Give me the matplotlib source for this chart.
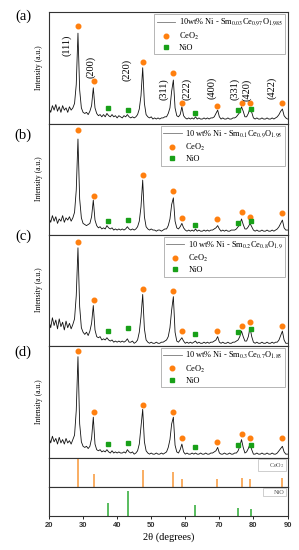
import matplotlib
matplotlib.use("Agg")
import matplotlib.pyplot as plt
from matplotlib.lines import Line2D
import numpy as np

plt.rcParams['font.family'] = ['Liberation Serif', 'DejaVu Serif']
plt.rcParams['mathtext.fontset'] = 'stix'

# 2theta grid, 0.5 deg step
two_theta = np.arange(20, 90.01, 0.5)

# intensities (percent of panel height)
int_a = [14, 10, 16, 12, 17, 11, 15, 10, 16, 12,
         14, 10, 15, 12, 14, 18, 35, 81, 30, 14,
         10, 9, 10, 8, 11, 16, 32, 14, 9, 7,
         8, 6, 8, 6, 9, 7, 6, 8, 6, 7,
         5, 7, 6, 5, 7, 6, 8, 6, 5, 6,
         5, 6, 8, 13, 25, 50, 18, 8, 6, 5,
         6, 4, 5, 4, 5, 4, 5, 5, 6, 6,
         9, 14, 29, 39, 14, 7, 6, 8, 15, 7,
         5, 4, 5, 4, 5, 4, 6, 4, 5, 4,
         4, 5, 4, 5, 4, 5, 5, 6, 9, 12,
         6, 4, 5, 4, 4, 5, 4, 4, 5, 5,
         6, 8, 10, 15, 11, 6, 6, 9, 14, 10,
         5, 4, 5, 4, 4, 5, 4, 4, 5, 4,
         4, 5, 4, 5, 6, 8, 11, 13, 7, 5,
         4]
int_b = [15, 11, 17, 12, 16, 10, 14, 12, 17, 11,
         15, 13, 16, 12, 15, 20, 40, 86, 32, 15,
         10, 9, 8, 9, 10, 16, 31, 13, 8, 6,
         7, 5, 6, 5, 8, 6, 5, 6, 4, 5,
         4, 5, 4, 5, 4, 5, 7, 5, 4, 5,
         4, 5, 7, 12, 25, 49, 16, 7, 5, 4,
         5, 4, 4, 3, 4, 4, 3, 4, 5, 5,
         8, 14, 27, 33, 12, 6, 5, 7, 10, 6,
         4, 3, 4, 3, 4, 3, 5, 3, 4, 3,
         3, 4, 3, 4, 3, 4, 4, 5, 6, 8,
         5, 3, 4, 3, 4, 3, 3, 4, 4, 4,
         5, 7, 9, 14, 9, 5, 5, 7, 10, 7,
         4, 3, 4, 3, 3, 4, 3, 3, 4, 3,
         3, 4, 3, 4, 5, 7, 10, 13, 6, 4,
         4]
int_c = [22, 16, 25, 18, 23, 15, 24, 17, 21, 14,
         22, 16, 20, 15, 19, 24, 45, 88, 35, 16,
         12, 10, 12, 9, 13, 20, 36, 14, 8, 7,
         8, 5, 6, 5, 7, 5, 4, 5, 3, 4,
         3, 4, 3, 4, 3, 4, 6, 3, 3, 4,
         2, 3, 5, 12, 26, 46, 15, 5, 3, 2,
         3, 2, 2, 3, 2, 2, 3, 3, 4, 5,
         8, 16, 32, 44, 12, 4, 3, 5, 7, 4,
         2, 3, 2, 3, 2, 3, 4, 2, 3, 2,
         2, 3, 2, 3, 2, 3, 3, 4, 5, 8,
         3, 2, 3, 2, 2, 3, 2, 2, 3, 3,
         4, 5, 8, 13, 8, 4, 4, 8, 16, 8,
         3, 2, 3, 2, 2, 3, 2, 2, 3, 2,
         2, 3, 2, 3, 3, 5, 9, 13, 5, 2,
         2]
int_d = [18, 13, 19, 14, 17, 12, 18, 13, 16, 12,
         17, 13, 15, 12, 16, 20, 42, 90, 30, 14,
         10, 9, 10, 8, 10, 17, 36, 12, 7, 6,
         7, 5, 6, 5, 7, 5, 4, 6, 4, 5,
         4, 5, 4, 4, 5, 4, 7, 5, 4, 5,
         3, 4, 6, 12, 28, 43, 14, 6, 4, 3,
         4, 3, 3, 4, 3, 3, 4, 3, 4, 5,
         9, 16, 30, 36, 11, 5, 4, 7, 12, 5,
         3, 4, 3, 3, 4, 3, 4, 3, 3, 4,
         3, 3, 4, 3, 3, 4, 4, 5, 6, 9,
         4, 3, 3, 4, 3, 3, 4, 3, 3, 4,
         4, 6, 10, 16, 9, 4, 5, 8, 12, 7,
         3, 3, 4, 3, 3, 4, 3, 3, 4, 3,
         3, 4, 3, 3, 4, 6, 8, 10, 5, 3,
         3]

ceo2_pos = [28.5, 33.1, 47.5, 56.3, 59.1, 69.4, 76.7, 79.1, 88.4]
nio_pos = [37.3, 43.3, 62.9, 75.4, 79.4]

ceo2_mark_a = [87, 38, 55, 45, 18, 16, 18, 18, 18]
ceo2_mark_b = [94, 35, 54, 39, 15, 14, 20, 16, 19]
ceo2_mark_c = [93, 41, 51, 49, 13.5, 13.5, 18, 21, 18]
ceo2_mark_d = [95, 41, 47, 41, 17, 14, 21, 17, 17]
nio_mark_a = [14, 12, 9, 12, 13]
nio_mark_b = [12, 13, 9, 10.5, 12]
nio_mark_c = [13.5, 16, 10, 12, 15]
nio_mark_d = [12, 13, 9, 11, 11]

# reference patterns (relative stick heights)
ceo2_ref = [94, 43, 58, 51, 25, 25, 30, 25, 30]
nio_ref = [43, 84, 38, 27, 23]

hkl = ['(111)', '(200)', '(220)', '(311)', '(222)', '(400)', '(331)', '(420)', '(422)']
hkl_x = [25.2, 32.3, 42.8, 53.6, 60.4, 67.8, 74.6, 78.0, 85.4]
hkl_y = [70, 51, 48, 31, 31, 32, 31, 30, 32]

panel_tags = ['(a)', '(b)', '(c)', '(d)']
sample_labels = [r'10wt% Ni - Sm$_{0.03}$Ce$_{0.97}$O$_{1.985}$',
                 r'10 wt% Ni - Sm$_{0.1}$Ce$_{0.9}$O$_{1.95}$',
                 r'10 wt% Ni - Sm$_{0.2}$Ce$_{0.8}$O$_{1.9}$',
                 r'10 wt% Ni - Sm$_{0.3}$Ce$_{0.7}$O$_{1.85}$']

orange = '#ff7f0e'
green = '#18a018'
W, H = 299, 550
fig = plt.figure(figsize=(W / 100, H / 100), dpi=100)


def px_axes(top, bottom):
    return fig.add_axes([49 / W, 1 - bottom / H, 238.5 / W, (bottom - top) / H])


def style(ax):
    ax.set_xlim(20, 90)
    ax.set_ylim(0, 100)
    ax.set_yticks([])
    for s in ax.spines.values():
        s.set_linewidth(0.8)
        s.set_color('#333333')


bounds = [(12, 123.5), (123.5, 234.5), (234.5, 345.5), (345.5, 457.5)]
patterns = [int_a, int_b, int_c, int_d]
ce_marks = [ceo2_mark_a, ceo2_mark_b, ceo2_mark_c, ceo2_mark_d]
ni_marks = [nio_mark_a, nio_mark_b, nio_mark_c, nio_mark_d]
tag_y = [16, 135, 236, 352]

for i in range(4):
    ax = px_axes(*bounds[i])
    style(ax)
    ax.set_xticks([])
    ax.plot(two_theta, patterns[i], color='#111111', lw=0.6)
    ce, = ax.plot(ceo2_pos, ce_marks[i], 'o', color=orange, ms=3.3, ls='none')
    ni, = ax.plot(nio_pos, ni_marks[i], 's', color=green, ms=2.4, ls='none')
    hl = Line2D([], [], color='#777777', lw=0.6)
    leg = ax.legend([hl, ce, ni], [sample_labels[i], 'CeO$_2$', 'NiO'],
                    loc='upper right', fontsize=6, frameon=True, fancybox=False,
                    edgecolor='#999999', framealpha=1, borderpad=0.3,
                    labelspacing=0.25, handlelength=2.2, handletextpad=0.45,
                    borderaxespad=0.25)
    leg.get_frame().set_linewidth(0.5)
    ax.text(-0.044, 0.5, 'Intensity (a.u.)', transform=ax.transAxes,
            rotation=90, ha='center', va='center', fontsize=5.5)
    fig.text(23 / W, 1 - tag_y[i] / H, panel_tags[i], ha='center', va='center',
             fontsize=10.5)
    if i == 0:
        for lab, x, y in zip(hkl, hkl_x, hkl_y):
            ax.text(x, y, lab, rotation=90, ha='center', va='center', fontsize=7.5)

ax_ce = px_axes(457.5, 486.5)
style(ax_ce)
ax_ce.set_xticks([])
ax_ce.vlines(ceo2_pos, 0, ceo2_ref, color='#f8a048', lw=1.2)
lg = ax_ce.legend([Line2D([], [], color='none')], ['CeO$_2$'], loc='upper right',
                  fontsize=4.5, fancybox=False, edgecolor='#bbbbbb', framealpha=1,
                  borderpad=0.2, handlelength=1.2, handletextpad=0.3,
                  borderaxespad=0.3, labelcolor='#555555')
lg.get_frame().set_linewidth(0.5)

ax_ni = px_axes(486.5, 516)
style(ax_ni)
ax_ni.vlines(nio_pos, 0, nio_ref, color='#3cb043', lw=1.2)
lg = ax_ni.legend([Line2D([], [], color='none')], ['NiO'], loc='upper right',
                  fontsize=4.5, fancybox=False, edgecolor='#bbbbbb', framealpha=1,
                  borderpad=0.2, handlelength=1.2, handletextpad=0.3,
                  borderaxespad=0.3, labelcolor='#555555')
lg.get_frame().set_linewidth(0.5)
ax_ni.set_xticks(range(20, 91, 10))
ax_ni.tick_params(axis='x', direction='out', length=2, width=0.6, pad=2)
for t in ax_ni.get_xticklabels():
    t.set_fontfamily('Liberation Sans')
    t.set_fontweight('bold')
    t.set_fontsize(5.5)
    t.set_color('#333333')
ax_ni.set_xlabel('2θ (degrees)', fontsize=7.5, labelpad=3)

fig.savefig('out.png', dpi=100)
